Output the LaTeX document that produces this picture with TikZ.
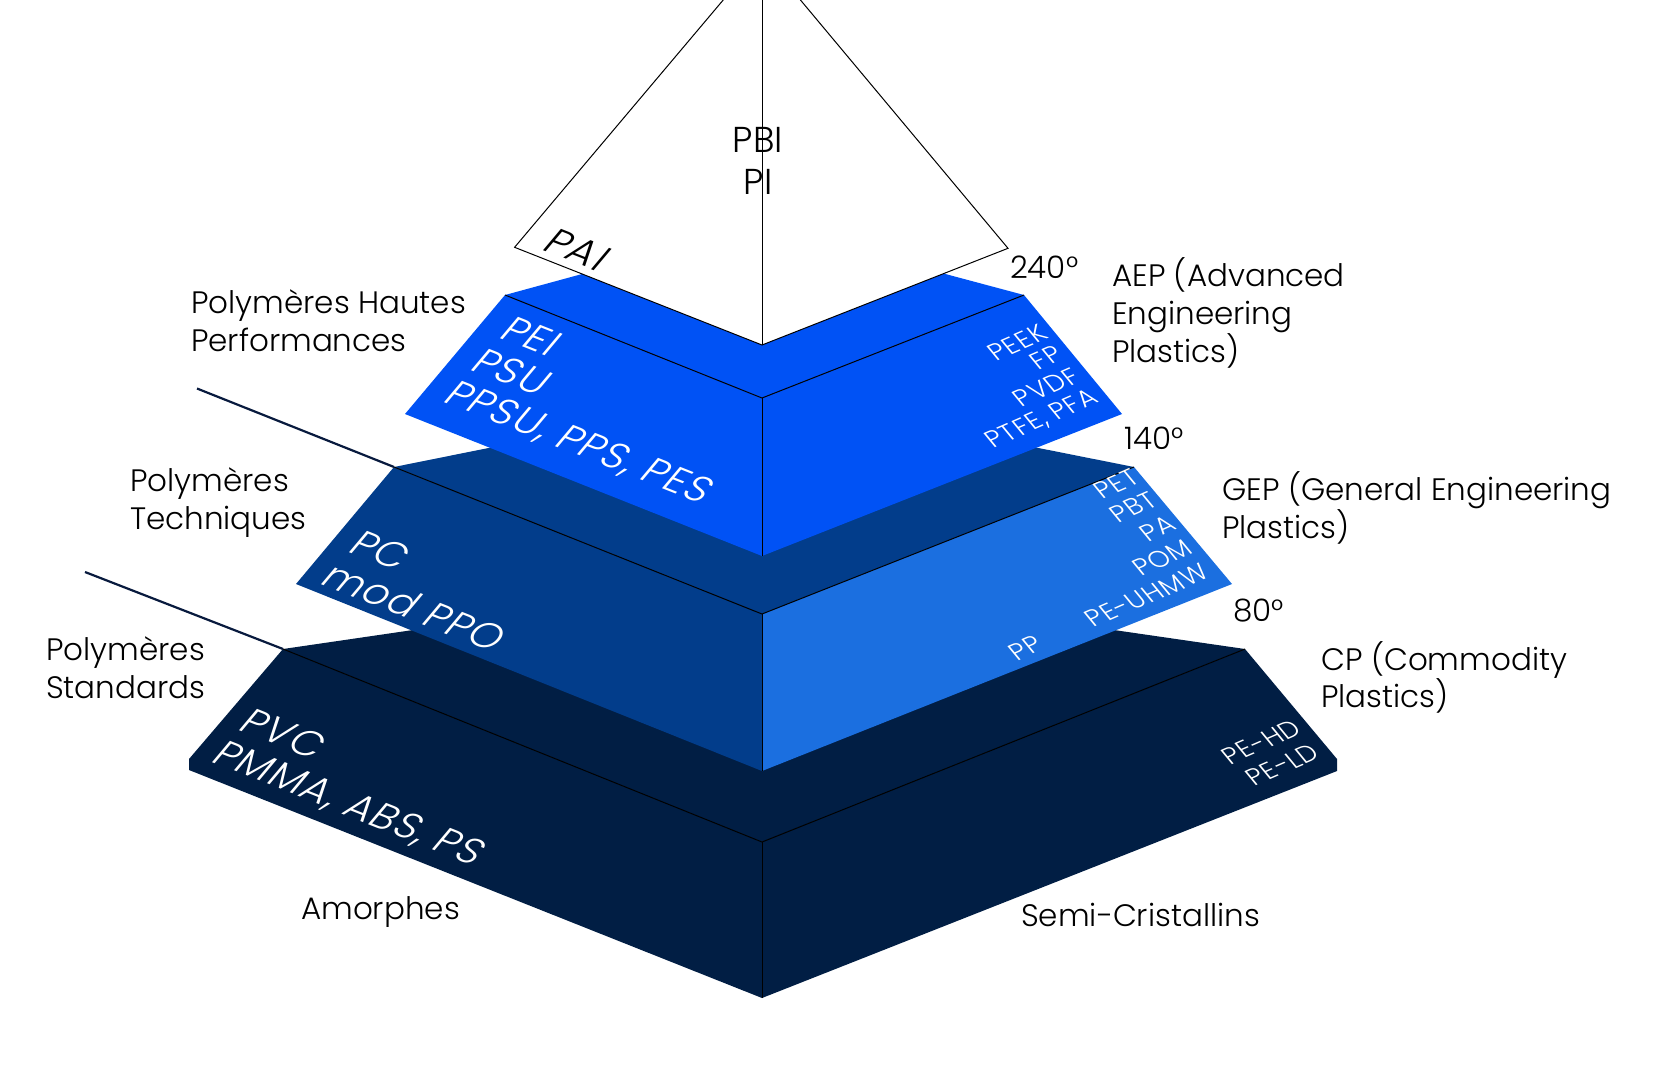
\documentclass[tikz,border=0pt]{standalone}
\usepackage{fontspec}
\setmainfont{Poppins Light}
\newcommand\myfs[1]{\fontsize{#1}{#1}\selectfont}
\definecolor{cBright}{RGB}{0,82,245}
\definecolor{cMid}{RGB}{2,61,139}
\definecolor{cLight}{RGB}{27,111,224}
\definecolor{cNavy}{RGB}{1,30,68}
\definecolor{cLine}{RGB}{8,26,62}
\begin{document}
\begin{tikzpicture}[x=1pt,y=-1pt,
  edge/.style={draw=black,line width=1pt,line join=miter},
  leader/.style={draw=cLine,line width=2.2pt},
  lbl/.style={font=\myfs{31},text=black,inner sep=0pt,anchor=base west},
  big/.style={font=\myfs{40}\addfontfeatures{LetterSpace=3.5},text=white,inner sep=0pt},
  small/.style={font=\myfs{26}\addfontfeatures{LetterSpace=3},text=white,inner sep=0pt},
  lface/.style={cm={0.9296,-0.3687,0.6435,0.7657,(0,0)}},
  rface/.style={cm={0.9170,0.3987,-0.6356,0.7718,(0,0)}}]
\useasboundingbox (0,0) rectangle (1655,1080);
\clip (0,0) rectangle (1655,1080);

% ---------- coordinates ----------
\coordinate (A3) at (283,649);  \coordinate (F3) at (762,842);
\coordinate (B3) at (1245,649); \coordinate (K3) at (762,579);
\coordinate (G3) at (762,998);  \coordinate (C3a) at (189,759);
\coordinate (C3b) at (189,770); \coordinate (D3a) at (1337,759);
\coordinate (D3b) at (1337,771);

\coordinate (A2) at (394,467);  \coordinate (F2) at (762,614);
\coordinate (B2) at (1134,467); \coordinate (K2) at (762,393);
\coordinate (G2) at (762,771);  \coordinate (C2) at (296,584);
\coordinate (D2) at (1232,584);

\coordinate (A1) at (505,295);  \coordinate (F1) at (762,398);
\coordinate (B1) at (1024,295); \coordinate (K1) at (762,225);
\coordinate (G1) at (762,556);  \coordinate (C1) at (405,414);
\coordinate (D1) at (1122,414);

\coordinate (Apex) at (762,-46); \coordinate (WL) at (514.6,247.3);
\coordinate (WB) at (762,345);   \coordinate (WR) at (1008,248.3);

\coordinate (N1) at (197,388.5); \coordinate (N2) at (85,572);

% ---------- layer 3 (commodity) ----------
\fill[cNavy] (A3) -- (F3) -- (B3) -- (K3) -- cycle;
\fill[cNavy] (A3) -- (F3) -- (G3) -- (C3b) -- (C3a) -- cycle;
\fill[cNavy] (F3) -- (B3) -- (D3a) -- (D3b) -- (G3) -- cycle;
\draw[edge] (A3) -- (F3) -- (B3);
\draw[edge] (F3) -- (G3);

% ---------- layer 2 (engineering) ----------
\fill[cMid] (A2) -- (F2) -- (B2) -- (K2) -- cycle;
\fill[cMid] (A2) -- (F2) -- (G2) -- (C2) -- cycle;
\fill[cLight] (F2) -- (B2) -- (D2) -- (G2) -- cycle;
\draw[edge] (A2) -- (F2) -- (B2);
\draw[edge] (F2) -- (G2);

% ---------- layer 1 (high performance) ----------
\fill[cBright] (A1) -- (F1) -- (B1) -- (K1) -- cycle;
\fill[cBright] (A1) -- (F1) -- (G1) -- (C1) -- cycle;
\fill[cBright] (F1) -- (B1) -- (D1) -- (G1) -- cycle;
\draw[edge] (A1) -- (F1) -- (B1);
\draw[edge] (F1) -- (G1);

% ---------- top pyramid ----------
\filldraw[fill=white,edge] (Apex) -- (WL) -- (WB) -- (WR) -- cycle;
\draw[edge] (Apex) -- (WB);

% ---------- leader lines ----------
\draw[leader] (N1) -- (A2);
\draw[leader] (N2) -- (A3);

% ---------- texts on faces ----------
\node[font=\myfs{36},inner sep=0pt,anchor=base] (tPBI) at (758,152) {PBI};
\node[font=\myfs{36},inner sep=0pt,anchor=base] (tPI) at (758,194) {PI};
\node[big,text=black,lface,anchor=base west] (tPAI) at (540,249) {PAI};

\node[big,lface,anchor=base west] (tPEI) at (497,337) {PEI};
\node[big,lface,anchor=base west] (tPSU) at (468,369) {PSU};
\node[big,lface,anchor=base west] (tPPSU) at (441,401) {PPSU, PPS, PES};

\node[small,rface,anchor=base east] (tPEEK) at (1050,338) {PEEK};
\node[small,rface,anchor=base east] (tFP) at (1065,359) {FP};
\node[small,rface,anchor=base east] (tPVDF) at (1082,381) {PVDF};
\node[small,rface,anchor=base east] (tPTFE) at (1100,402) {PTFE, PFA};

\node[big,lface,anchor=base west] (tPC) at (346,551) {PC};
\node[big,lface,anchor=base west] (tPPO) at (318,583) {mod PPO};

\node[small,rface,anchor=base east] (tPET) at (1142,482) {PET};
\node[small,rface,anchor=base east] (tPBT) at (1160,505) {PBT};
\node[small,rface,anchor=base east] (tPA) at (1178,529) {PA};
\node[small,rface,anchor=base east] (tPOM) at (1195,553) {POM};
\node[small,rface,anchor=base east] (tUHMW) at (1211,577) {PE-UHMW};
\node[small,rface,anchor=base east] (tPP) at (1045,649) {PP};

\node[big,lface,anchor=base west] (tPVC) at (236,729) {PVC};
\node[big,lface,anchor=base west] (tPMMA) at (209,761) {PMMA, ABS, PS};

\node[small,rface,anchor=base east] (tPEHD) at (1304,733) {PE-HD};
\node[small,rface,anchor=base east] (tPELD) at (1322,757) {PE-LD};

% ---------- outside labels ----------
\node[lbl] (tHP1) at (191,313) {Polymères Hautes};
\node[lbl] (tHP2) at (191,351) {Performances};
\node[lbl] (tT1) at (130,491) {Polymères};
\node[lbl] (tT2) at (130,529) {Techniques};
\node[lbl] (tS1) at (46,660) {Polymères};
\node[lbl] (tS2) at (46,698) {Standards};

\node[lbl] (tAEP1) at (1112,286) {AEP (Advanced};
\node[lbl] (tAEP2) at (1112,324) {Engineering};
\node[lbl] (tAEP3) at (1112,362) {Plastics)};
\node[lbl] (tGEP1) at (1222,500) {GEP (General Engineering};
\node[lbl] (tGEP2) at (1222,538) {Plastics)};
\node[lbl] (tCP1) at (1321,670) {CP (Commodity};
\node[lbl] (tCP2) at (1321,707) {Plastics)};

\node[lbl] (t240) at (1010,278) {240°};
\node[lbl] (t140) at (1124,449) {140°};
\node[lbl] (t80) at (1233,621) {80°};

\node[lbl] (tAm) at (301,919) {Amorphes};
\node[lbl] (tSC) at (1021,926) {Semi-Cristallins};
\end{tikzpicture}
\end{document}
